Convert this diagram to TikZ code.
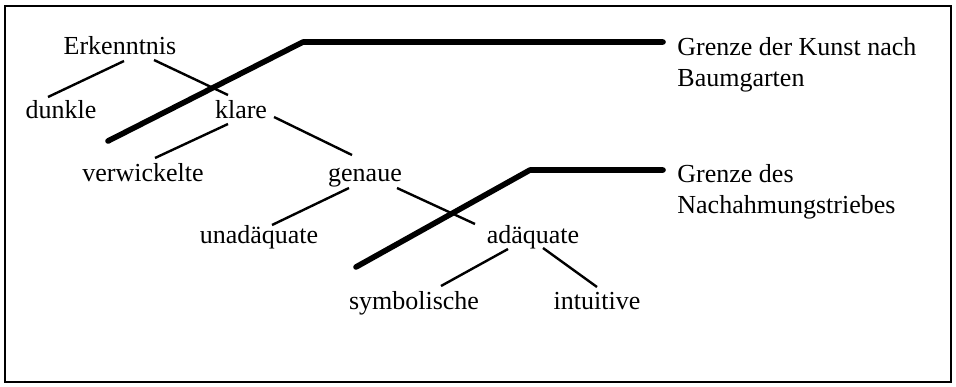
\documentclass[tikz,border=0pt]{standalone}
\usepackage{fontspec}
\setmainfont{Liberation Serif}
\usetikzlibrary{positioning}
\tikzset{
  term/.style  ={inner sep=0pt, anchor=base, font=\fontsize{13}{15.5}\selectfont},
  lbl/.style   ={inner sep=0pt, align=left, font=\fontsize{13}{15.5}\selectfont},
  branch/.style={line width=1.2pt},
  grenze/.style={line width=2.8pt, line cap=round, line join=round},
}
\begin{document}
\begin{tikzpicture}[x=0.5pt, y=-0.5pt]
  \useasboundingbox (0,0) rectangle (956,386);
  \draw[line width=1pt] (5,6) rectangle (951,382);

  % Tree of terms
  \node[term] (erk)    at (120,54)  {Erkenntnis};
  \node[term] (dunkle) at (61,118)  {dunkle};
  \node[term] (klare)  at (241,118) {klare};
  \node[term] (verw)   at (143,181) {verwickelte};
  \node[term] (genaue) at (365,181) {genaue};
  \node[term] (unad)   at (259,243) {unadäquate};
  \node[term] (adaq)   at (533,243) {adäquate};
  \node[term] (symb)   at (414,309) {symbolische};
  \node[term] (intu)   at (597,309) {intuitive};

  \draw[branch] ([shift={(4,7)}]erk.base)     -- ([shift={(-13,-21)}]dunkle.base);
  \draw[branch] ([shift={(34,6)}]erk.base)    -- ([shift={(-13,-23)}]klare.base);
  \draw[branch] ([shift={(-13,6)}]klare.base) -- ([shift={(12,-23)}]verw.base);
  \draw[branch] ([shift={(33,-1)}]klare.base) -- ([shift={(-13,-26)}]genaue.base);
  \draw[branch] ([shift={(-16,7)}]genaue.base) -- ([shift={(13,-18)}]unad.base);
  \draw[branch] ([shift={(32,7)}]genaue.base)  -- ([shift={(-58,-19)}]adaq.base);
  \draw[branch] ([shift={(-25,6)}]adaq.base)  -- ([shift={(27,-23)}]symb.base);
  \draw[branch] ([shift={(10,5)}]adaq.base)   -- ([shift={(0,-22)}]intu.base);

  % Limits
  \coordinate (k1) at (108,141);
  \coordinate (k2) at (303,42);
  \coordinate (k3) at (663,42);
  \draw[grenze] (k1) -- (k2) -- (k3);
  \node[lbl, right=7pt of k3, anchor=base west, yshift=-22pt] (kunst)
    {Grenze der Kunst nach\\Baumgarten};

  \coordinate (n1) at (356,267);
  \coordinate (n2) at (530,170);
  \coordinate (n3) at (663,170);
  \draw[grenze] (n1) -- (n2) -- (n3);
  \node[lbl, right=7pt of n3, anchor=base west, yshift=-21.5pt] (nach)
    {Grenze des\\Nachahmungstriebes};
\end{tikzpicture}
\end{document}
